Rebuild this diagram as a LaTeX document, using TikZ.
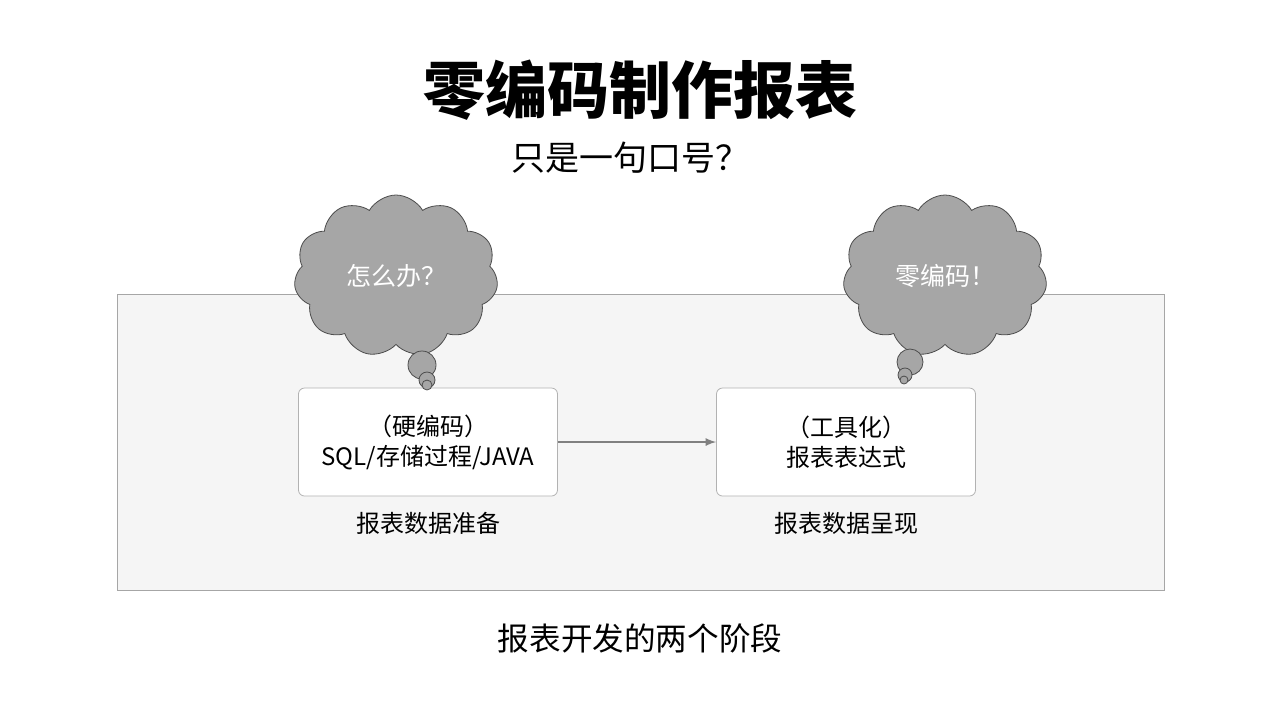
\documentclass[tikz,border=0pt]{standalone}
\usepackage{fontspec}
\setmainfont{Noto Sans CJK SC}
\usetikzlibrary{shapes.symbols}
\begin{document}
\begin{tikzpicture}[
  x=0.5pt,y=-0.5pt,
  every node/.style={align=center},
  panel/.style={draw=gray!70,fill=gray!8},
  stagebox/.style={draw=gray!60,rounded corners=3pt,fill=white,minimum width=129.5pt,minimum height=54pt,font=\fontsize{12}{15}\selectfont},
  thought/.style={cloud,cloud puffs=11,cloud puff arc=120,aspect=1.3,draw=gray!60!black,fill=gray!70,text=white,font=\fontsize{12.5}{15}\selectfont},
  bubble/.style={circle,draw=gray!60!black,fill=gray!70,inner sep=0pt},
  flow/.style={->,gray,thick,>=latex},
  caption/.style={font=\fontsize{12}{15}\selectfont}]
\useasboundingbox (0,0) rectangle (1280,720);
% title
\node[font=\fontsize{31}{36}\bfseries\selectfont] (title) at (640,90) {零编码制作报表};
\node[font=\fontsize{17}{20}\selectfont] (subtitle) at (630,158) {只是一句口号？};
% stage panel
\draw[panel] (117,294) rectangle (1164,590);
\node[stagebox] (prepare) at (428,442) {（硬编码）\\SQL/存储过程/JAVA};
\node[stagebox] (present) at (846,442) {（工具化）\\报表表达式};
\node[caption] (prepareLabel) at (428,523) {报表数据准备};
\node[caption] (presentLabel) at (846,523) {报表数据呈现};
\draw[flow] (prepare) -- (present);
% thought clouds
\node[thought,minimum width=102pt,minimum height=81pt] (cloudLeft) at (396,276) {怎么办？};
\node[bubble,minimum size=14pt] (bubbleLeftA) at (422,365) {};
\node[bubble,minimum size=8pt] (bubbleLeftB) at (427,380) {};
\node[bubble,minimum size=5pt] (bubbleLeftC) at (427,385) {};
\node[thought,minimum width=102pt,minimum height=81pt] (cloudRight) at (945,276) {零编码！};
\node[bubble,minimum size=13pt] (bubbleRightA) at (910,362) {};
\node[bubble,minimum size=7pt] (bubbleRightB) at (905,375) {};
\node[bubble,minimum size=4pt] (bubbleRightC) at (904,380) {};
% bottom caption
\node[font=\fontsize{15.8}{18}\selectfont] (footer) at (640,638) {报表开发的两个阶段};
\end{tikzpicture}
\end{document}
